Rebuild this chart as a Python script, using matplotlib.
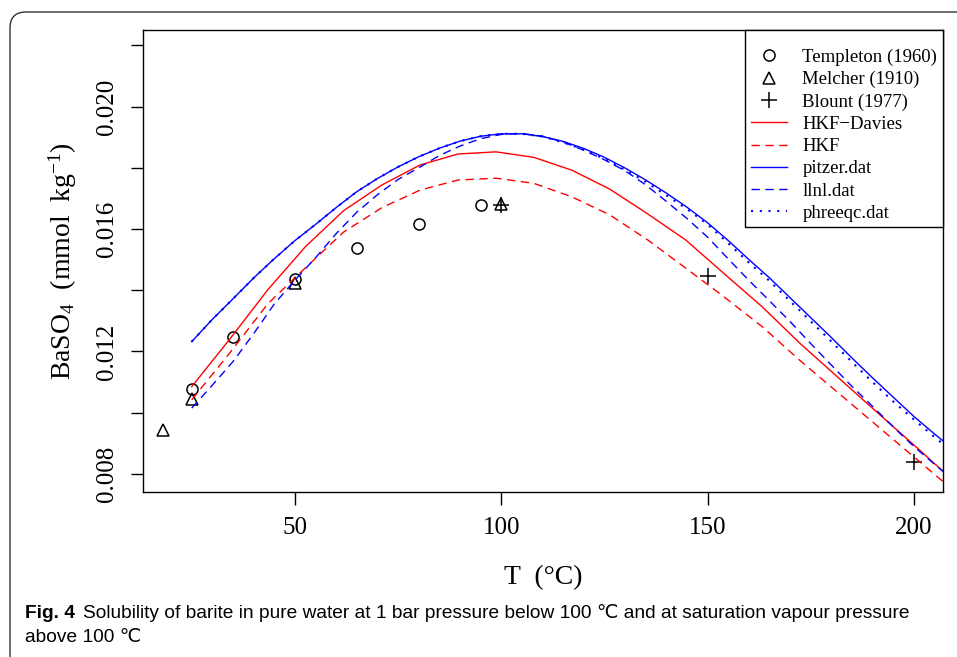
import matplotlib.pyplot as plt
from matplotlib.patches import FancyBboxPatch
from matplotlib.transforms import IdentityTransform

plt.rcParams['font.family'] = 'Liberation Serif'
plt.rcParams['mathtext.fontset'] = 'custom'
plt.rcParams['mathtext.rm'] = 'Liberation Serif'
plt.rcParams['mathtext.it'] = 'Liberation Serif:italic'

# measured points
templeton_T = [25, 35, 50, 65, 80, 95]
templeton_S = [0.01078, 0.01247, 0.01437, 0.01538, 0.01616, 0.01678]
melcher_T = [18, 25, 50, 100]
melcher_S = [0.00944, 0.01045, 0.01424, 0.01682]
blount_T = [100, 150, 200]
blount_S = [0.0168, 0.01447, 0.00839]

# HKF model curves
hkf_T = [25, 34.2, 43.4, 52.6, 61.8, 71.1, 80.3, 89.5, 98.7, 107.9, 117.1,
         126.3, 135.5, 144.7, 153.9, 163.2, 172.4, 181.6, 190.8, 200.0, 209.2]
hkf_davies_S = [0.01085, 0.01240, 0.01401, 0.01543, 0.01660, 0.01744, 0.01809,
                0.01845, 0.01852, 0.01834, 0.01792, 0.01730, 0.01649, 0.01564,
                0.01455, 0.01346, 0.01226, 0.01115, 0.01004, 0.00894, 0.00782]
hkf_S = [0.01042, 0.01195, 0.01355, 0.01474, 0.01590, 0.01670, 0.01727,
         0.01760, 0.01766, 0.01749, 0.01705, 0.01646, 0.01564, 0.01472,
         0.01379, 0.01281, 0.01170, 0.01065, 0.00960, 0.00855, 0.00750]

# PHREEQC database curves
db_T = [25, 30, 35, 40, 45, 50, 55, 60, 65, 70, 75, 80, 85, 90, 95, 100,
        105, 110, 115, 120, 125, 130, 135, 140, 145, 150, 155, 160, 165,
        170, 175, 180, 185, 190, 195, 200, 205, 210]
pitzer_S = [0.01232, 0.01305, 0.01372, 0.01440, 0.01503, 0.01562, 0.01615,
            0.01670, 0.01722, 0.01765, 0.01803, 0.01836, 0.01864, 0.01887,
            0.01903, 0.01911, 0.01911, 0.01902, 0.01886, 0.01863, 0.01834,
            0.01799, 0.01760, 0.01717, 0.01671, 0.01620, 0.01562, 0.01500,
            0.01440, 0.01375, 0.01310, 0.01245, 0.01178, 0.01113, 0.01050,
            0.00987, 0.00930, 0.00875]
llnl_S = [0.01015, 0.01090, 0.01167, 0.01258, 0.01355, 0.01433, 0.01506,
          0.01585, 0.01655, 0.01712, 0.01762, 0.01800, 0.01840, 0.01871,
          0.01895, 0.01909, 0.01912, 0.01903, 0.01884, 0.01857, 0.01826,
          0.01790, 0.01744, 0.01690, 0.01634, 0.01573, 0.01502, 0.01432,
          0.01365, 0.01297, 0.01225, 0.01155, 0.01085, 0.01020, 0.00953,
          0.00889, 0.00831, 0.00775]
phreeqc_S = [0.01232, 0.01305, 0.01372, 0.01440, 0.01503, 0.01562, 0.01615,
             0.01670, 0.01722, 0.01765, 0.01803, 0.01836, 0.01864, 0.01887,
             0.01903, 0.01911, 0.01911, 0.01902, 0.01883, 0.01859, 0.01829,
             0.01793, 0.01754, 0.01710, 0.01665, 0.01615, 0.01553, 0.01490,
             0.01430, 0.01364, 0.01298, 0.01232, 0.01165, 0.01099, 0.01036,
             0.00977, 0.00920, 0.00864]

x_ticks = [50, 100, 150, 200]
y_ticks = [0.008, 0.010, 0.012, 0.014, 0.016, 0.018, 0.020, 0.022]
y_ticklabels = ['0.008', '', '0.012', '', '0.016', '', '0.020', '']

W, H = 957, 657
fig = plt.figure(figsize=(W / 100, H / 100), dpi=100)
ax = fig.add_axes([143 / W, 1 - 492 / H, 800 / W, 462 / H])

ax.plot(templeton_T, templeton_S, 'o', mfc='none', mec='black', ms=8, mew=1.1,
        label='Templeton (1960)')
ax.plot(melcher_T, melcher_S, '^', mfc='none', mec='black', ms=9, mew=1.1,
        label='Melcher (1910)')
ax.plot(blount_T, blount_S, '+', color='black', ms=11, mew=1.1,
        label='Blount (1977)')
ax.plot(hkf_T, hkf_davies_S, color='#ff0000', lw=1.0, label='HKF\u2212Davies')
ax.plot(hkf_T, hkf_S, color='#ff0000', lw=1.0, ls=(0, (6, 4)), label='HKF')
ax.plot(db_T, pitzer_S, color='#0000ff', lw=1.0, label='pitzer.dat')
ax.plot(db_T, llnl_S, color='#0000ff', lw=1.0, ls=(0, (6, 4)), label='llnl.dat')
ax.plot(db_T, phreeqc_S, color='#0000ff', lw=1.5, ls=(0, (1, 3.2)),
        label='phreeqc.dat')

ax.set_xlim(13.2, 207.0)
ax.set_ylim(0.00741, 0.0225)
ax.set_xticks(x_ticks)
ax.set_xticklabels([str(t) for t in x_ticks])
ax.set_yticks(y_ticks)
ax.set_yticklabels(y_ticklabels)
ax.tick_params(axis='both', direction='out', length=9, width=1.0, labelsize=18)
ax.tick_params(axis='x', pad=9)
ax.tick_params(axis='y', pad=9, labelrotation=90)
for lab in ax.get_yticklabels():
    lab.set_va('center')
for s in ax.spines.values():
    s.set_linewidth(1.0)

ax.set_xlabel('T  (\u00b0C)', fontsize=20, labelpad=19)
ax.set_ylabel(r'BaSO$_4$  (mmol  kg$^{-1}$)', fontsize=20, labelpad=12)

# blank title gives the extra gap above the first entry, as in the R legend
leg = ax.legend(loc='upper right', borderaxespad=0, fontsize=13.5,
                fancybox=False, edgecolor='black', framealpha=1,
                handlelength=1.9, labelspacing=0.27, borderpad=0.3,
                handletextpad=0.85, title=' ', title_fontsize=6)
leg.get_frame().set_linewidth(1.0)

# caption and outer box
box = FancyBboxPatch((10, -60), 1100, H - 12 + 60, boxstyle='round,pad=0,rounding_size=16',
                     transform=IdentityTransform(), fill=False, edgecolor='#333333', lw=1.0)
fig.add_artist(box)

cap_font = 'Liberation Sans'
cap_size = 13.8
r = fig.canvas.get_renderer()
t1 = fig.text(25 / W, 1 - 613 / H, 'Fig. 4', fontsize=cap_size, fontweight='bold',
              family=cap_font, va='center', ha='left')
bb = t1.get_window_extent(r)
fig.text((bb.x1 + 8) / W, 1 - 613 / H,
         'Solubility of barite in pure water at 1 bar pressure below 100 \u2103 and at saturation vapour pressure',
         fontsize=cap_size, family=[cap_font, 'DejaVu Sans'], va='center', ha='left')
fig.text(25 / W, 1 - 637 / H, 'above 100 \u2103', fontsize=cap_size,
         family=[cap_font, 'DejaVu Sans'], va='center', ha='left')

fig.savefig('out.png', dpi=100)
